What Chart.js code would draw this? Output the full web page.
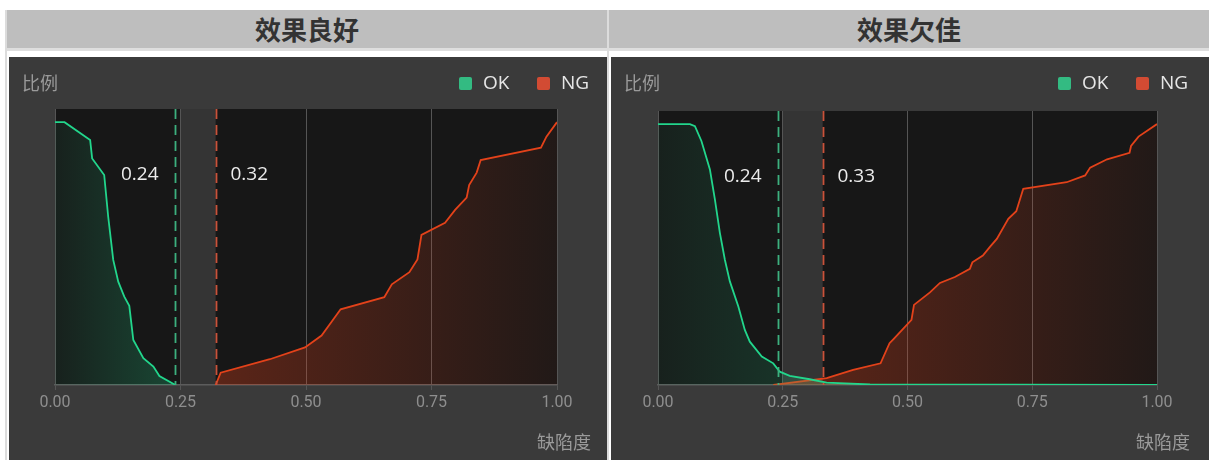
<!DOCTYPE html>
<html>
<head>
<meta charset="utf-8">
<script src="https://cdn.jsdelivr.net/npm/chart.js@4.4.1/dist/chart.umd.min.js"></script>
<style>
  html, body { margin: 0; padding: 0; background: #fff; width: 1209px; height: 460px; overflow: hidden; }
  body { position: relative; font-family: "Noto Sans CJK SC", sans-serif; }
  .line { position: absolute; background: #dcdcdc; }
  .head { position: absolute; top: 10px; height: 38px; line-height: 38px; background: #bebebe;
          border-bottom: 3px solid #dedede; color: #333; font-weight: bold; font-size: 26px; text-align: center; }
  .panel { position: absolute; top: 57px; height: 403px; background: #3a3a3a; }
  canvas { display: block; }
</style>
</head>
<body>
<div class="line" style="left:5px;top:10px;width:2px;height:450px"></div>
<div class="line" style="left:607px;top:10px;width:2px;height:450px"></div>
<div class="head" style="left:7px;width:600px">效果良好</div>
<div class="head" style="left:609px;width:600px">效果欠佳</div>
<div class="panel" style="left:9px;width:598px"><canvas id="goodChart" width="598" height="403"></canvas></div>
<div class="panel" style="left:611px;width:598px"><canvas id="badChart" width="598" height="403"></canvas></div>

<script>
// ---- data ----
const xTicks = [0, 0.25, 0.5, 0.75, 1];

// 效果良好
const goodOkX = [0, 0.019, 0.070, 0.074, 0.098, 0.106, 0.116, 0.126, 0.138, 0.148, 0.156, 0.176, 0.196, 0.208, 0.24];
const goodOkY = [1.0, 1.0, 0.932, 0.862, 0.799, 0.640, 0.476, 0.393, 0.336, 0.301, 0.171, 0.102, 0.070, 0.034, 0];
const goodNgX = [0.32, 0.330, 0.428, 0.498, 0.531, 0.551, 0.569, 0.656, 0.671, 0.706, 0.722, 0.730, 0.777, 0.797, 0.820, 0.825, 0.840, 0.848, 0.968, 0.979, 1.0];
const goodNgY = [0, 0.047, 0.098, 0.143, 0.188, 0.241, 0.288, 0.334, 0.383, 0.429, 0.478, 0.571, 0.617, 0.666, 0.713, 0.761, 0.808, 0.856, 0.903, 0.945, 1.0];
const goodThresholds = [0.24, 0.32];

// 效果欠佳
const badOkX = [0, 0.064, 0.074, 0.087, 0.104, 0.114, 0.124, 0.134, 0.144, 0.161, 0.174, 0.184, 0.208, 0.231, 0.244, 0.264, 0.304, 0.338, 0.425, 1.0];
const badOkY = [1.0, 1.0, 0.992, 0.935, 0.826, 0.711, 0.583, 0.480, 0.397, 0.301, 0.211, 0.166, 0.109, 0.083, 0.051, 0.035, 0.022, 0.009, 0.002, 0];
const badNgX = [0.231, 0.338, 0.391, 0.446, 0.464, 0.472, 0.508, 0.513, 0.545, 0.565, 0.595, 0.625, 0.630, 0.651, 0.666, 0.679, 0.702, 0.718, 0.732, 0.819, 0.856, 0.866, 0.900, 0.945, 0.948, 0.963, 1.0];
const badNgY = [0, 0.026, 0.058, 0.083, 0.160, 0.176, 0.250, 0.307, 0.355, 0.391, 0.414, 0.445, 0.470, 0.496, 0.531, 0.560, 0.637, 0.666, 0.752, 0.777, 0.803, 0.833, 0.865, 0.890, 0.916, 0.952, 1.0];
const badThresholds = [0.24, 0.33];

const OK_LINE = '#22d68c';
const NG_LINE = '#e3421a';
const OK_BOX = '#33bb82';
const NG_BOX = '#d24b33';

function points(xs, ys) {
  return xs.map((x, i) => ({ x: x, y: ys[i] }));
}

// horizontal gradient fill between two x values (data units)
function hGradient(from, to, rgb, a0, a1) {
  return function (ctx) {
    const chart = ctx.chart;
    const area = chart.chartArea;
    if (!area) return 'rgba(' + rgb + ',' + a0 + ')';
    const xs = chart.scales.x;
    const g = chart.ctx.createLinearGradient(xs.getPixelForValue(from), 0, xs.getPixelForValue(to), 0);
    g.addColorStop(0, 'rgba(' + rgb + ',' + a0 + ')');
    g.addColorStop(1, 'rgba(' + rgb + ',' + a1 + ')');
    return g;
  };
}

const decor = {
  id: 'decor',
  beforeDraw(chart, args, opts) {
    const { ctx, chartArea: a, scales: { x } } = chart;
    ctx.save();
    ctx.fillStyle = '#171717';
    ctx.fillRect(a.left, a.top, a.right - a.left, a.bottom - a.top);
    // band between the two thresholds
    const b0 = x.getPixelForValue(0.25);
    const b1 = x.getPixelForValue(opts.thr[1]);
    ctx.fillStyle = '#343434';
    ctx.fillRect(b0, a.top, b1 - b0, a.bottom - a.top);
    ctx.restore();
  },
  afterDatasetsDraw(chart, args, opts) {
    const { ctx, chartArea: a, scales: { x } } = chart;
    ctx.save();
    const cols = ['#3cb07e', '#c9523a'];
    opts.thr.forEach((t, i) => {
      const px = Math.round(x.getPixelForValue(t)) + 0.5;
      ctx.strokeStyle = cols[i];
      ctx.lineWidth = 1.8;
      ctx.setLineDash([10, 6]);
      ctx.beginPath();
      ctx.moveTo(px, a.top);
      ctx.lineTo(px, a.bottom);
      ctx.stroke();
      ctx.setLineDash([]);
      ctx.fillStyle = '#ececec';
      ctx.font = '19px "Open Sans", "Noto Sans", sans-serif';
      ctx.textBaseline = 'middle';
      ctx.textAlign = i === 0 ? 'right' : 'left';
      ctx.fillText(t.toFixed(2), i === 0 ? px - 17 : px + 14, opts.labelY);
    });
    ctx.restore();
  },
  afterDraw(chart, args, opts) {
    const ctx = chart.ctx;
    ctx.save();
    ctx.textBaseline = 'middle';
    ctx.fillStyle = '#9a9a9a';
    ctx.font = '18px "Noto Sans CJK SC", sans-serif';
    ctx.textAlign = 'left';
    ctx.fillText('比例', 13, 26);
    ctx.textAlign = 'right';
    ctx.fillText('缺陷度', opts.right + 1, 385);

    // legend
    ctx.font = '19px "Open Sans", "Noto Sans", sans-serif';
    ctx.textAlign = 'left';
    const r = opts.right;
    const items = [['OK', OK_BOX, r - 131], ['NG', NG_BOX, r - 53]];
    items.forEach(([txt, col, bx]) => {
      ctx.fillStyle = col;
      ctx.beginPath();
      ctx.roundRect(bx, 20, 13, 13, 2);
      ctx.fill();
      ctx.fillStyle = '#e6e6e6';
      ctx.fillText(txt, bx + 24, 27);
    });
    ctx.restore();
  }
};

function makeChart(id, c) {
  return new Chart(document.getElementById(id), {
    type: 'line',
    data: {
      datasets: [
        {
          label: 'OK',
          data: points(c.okX, c.okY),
          borderColor: OK_LINE,
          borderWidth: 1.8,
          pointRadius: 0,
          tension: 0,
          fill: 'origin',
          backgroundColor: hGradient(0, c.okGradEnd, '31,214,138', 0.05, 0.25)
        },
        {
          label: 'NG',
          data: points(c.ngX, c.ngY),
          borderColor: NG_LINE,
          borderWidth: 1.8,
          pointRadius: 0,
          tension: 0,
          fill: 'origin',
          backgroundColor: hGradient(c.ngGradStart, 1, '224,64,26', 0.34, 0.05)
        }
      ]
    },
    options: {
      responsive: false,
      animation: false,
      events: [],
      layout: { padding: { left: c.left, right: c.rightPad, top: c.top, bottom: 0 } },
      plugins: {
        legend: { display: false },
        tooltip: { enabled: false },
        decor: { thr: c.thr, labelY: c.labelY, right: c.legendRight }
      },
      scales: {
        x: {
          type: 'linear',
          min: 0,
          max: 1,
          afterBuildTicks: s => { s.ticks = xTicks.map(v => ({ value: v })); },
          afterFit: s => { s.height = 75; },
          ticks: {
            callback: v => Number(v).toFixed(2),
            color: '#8e8e8e',
            font: { family: 'Roboto', size: 16 },
            padding: 3,
            maxRotation: 0
          },
          grid: { color: '#555555', lineWidth: 1, tickLength: 5 },
          border: { color: '#5c5c5c', width: 1.5 }
        },
        y: { display: false, min: 0, max: 1.05 }
      }
    },
    plugins: [decor]
  });
}

makeChart('goodChart', {
  okX: goodOkX, okY: goodOkY, ngX: goodNgX, ngY: goodNgY, thr: goodThresholds,
  okGradEnd: 0.24, ngGradStart: 0.32,
  left: 46, rightPad: 50, top: 52, labelY: 118, legendRight: 581
});
makeChart('badChart', {
  okX: badOkX, okY: badOkY, ngX: badNgX, ngY: badNgY, thr: badThresholds,
  okGradEnd: 0.5, ngGradStart: 0.3,
  left: 47, rightPad: 52, top: 54, labelY: 120, legendRight: 578
});
</script>
</body>
</html>
